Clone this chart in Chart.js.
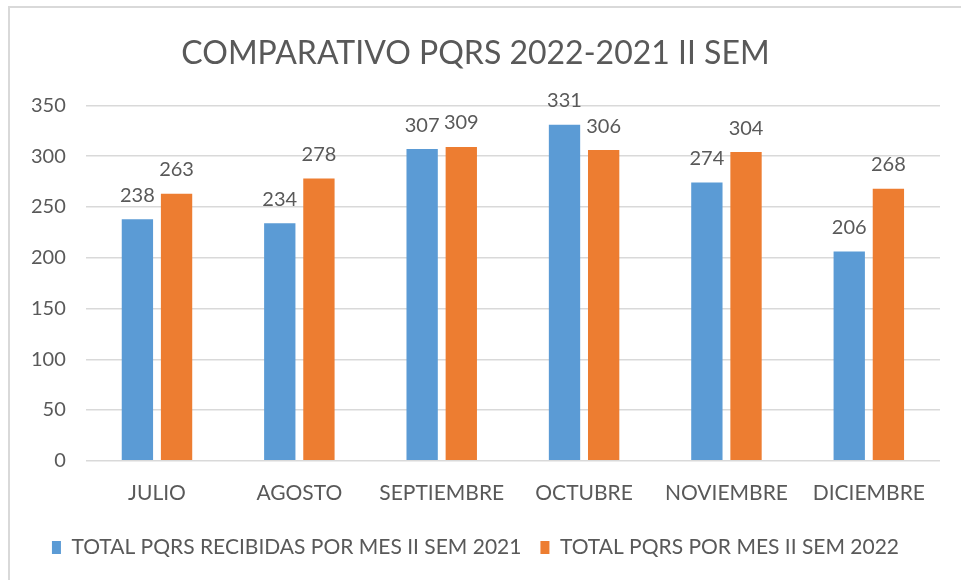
<!DOCTYPE html>
<html>
<head>
<meta charset="utf-8">
<script src="https://cdn.jsdelivr.net/npm/chart.js@4.4.0/dist/chart.umd.min.js"></script>
<style>
  html, body { margin: 0; padding: 0; background: #fff; }
  #frame {
    position: absolute; left: 8px; top: 6px;
    width: 960px; height: 580px;
    border-top: 2px solid #d9d9d9; border-left: 2px solid #d9d9d9;
    background: #fff;
  }
  #wrap { position: absolute; left: 10px; top: 8px; width: 951px; height: 572px; }
</style>
</head>
<body>
<div id="frame"></div>
<div id="wrap"><canvas id="barchart"></canvas></div>
<script>
	var meses = ["JULIO", "AGOSTO", "SEPTIEMBRE", "OCTUBRE", "NOVIEMBRE", "DICIEMBRE"];
	var pqrs2021 = [238, 234, 307, 331, 274, 206];
	var pqrs2022 = [263, 278, 309, 306, 304, 268];
	var ejeY = [0, 50, 100, 150, 200, 250, 300, 350];

	var gris = '#595959';
	var fuente = 'Lato, "Open Sans", sans-serif';

	// etiquetas de valor encima de cada barra
	var etiquetas = {
		id: 'etiquetas',
		afterDatasetsDraw: function (chart) {
			var ctx = chart.ctx;
			ctx.save();
			ctx.fillStyle = gris;
			ctx.font = '20px ' + fuente;
			ctx.textAlign = 'center';
			ctx.textBaseline = 'middle';
			chart.data.datasets.forEach(function (ds, i) {
				chart.getDatasetMeta(i).data.forEach(function (bar, j) {
					ctx.fillText(ds.data[j], bar.x, bar.y - 24);
				});
			});
			ctx.restore();
		}
	};

	var ctx = document.getElementById("barchart");
	var barchart = new Chart(ctx, {
		type: 'bar',
		data: {
			labels: meses,
			datasets: [{
				label: 'TOTAL PQRS RECIBIDAS POR MES II SEM 2021',
				data: pqrs2021,
				backgroundColor: '#5B9BD5'
			}, {
				label: 'TOTAL PQRS POR MES II SEM 2022',
				data: pqrs2022,
				backgroundColor: '#ED7D31'
			}]
		},
		options: {
			responsive: true,
			maintainAspectRatio: false,
			animation: false,
			datasets: {
				bar: { categoryPercentage: 0.55, barPercentage: 0.8 }
			},
			layout: { padding: { left: 1, right: 21, top: 14, bottom: 12 } },
			plugins: {
				title: {
					display: true,
					text: 'COMPARATIVO PQRS 2022-2021 II SEM',
					color: gris,
					font: { family: fuente, size: 32, weight: 'normal' },
					padding: { top: 12, bottom: 33 }
				},
				legend: {
					position: 'bottom',
					labels: {
						color: gris,
						font: { family: fuente, size: 21 },
						boxWidth: 9,
						boxHeight: 13,
						padding: 19
					}
				},
				tooltip: { enabled: false }
			},
			scales: {
				x: {
					grid: { display: false },
					border: { display: false },
					ticks: { color: gris, font: { family: fuente, size: 21 }, padding: 12 }
				},
				y: {
					min: 0,
					max: 350,
					afterBuildTicks: function (axis) {
						axis.ticks = ejeY.map(function (v) { return { value: v }; });
					},
					grid: { color: '#d9d9d9', lineWidth: 1.5, drawTicks: false },
					border: { display: false },
					ticks: { color: gris, font: { family: fuente, size: 20 }, padding: 20 }
				}
			}
		},
		plugins: [etiquetas]
	});
</script>
</body>
</html>
